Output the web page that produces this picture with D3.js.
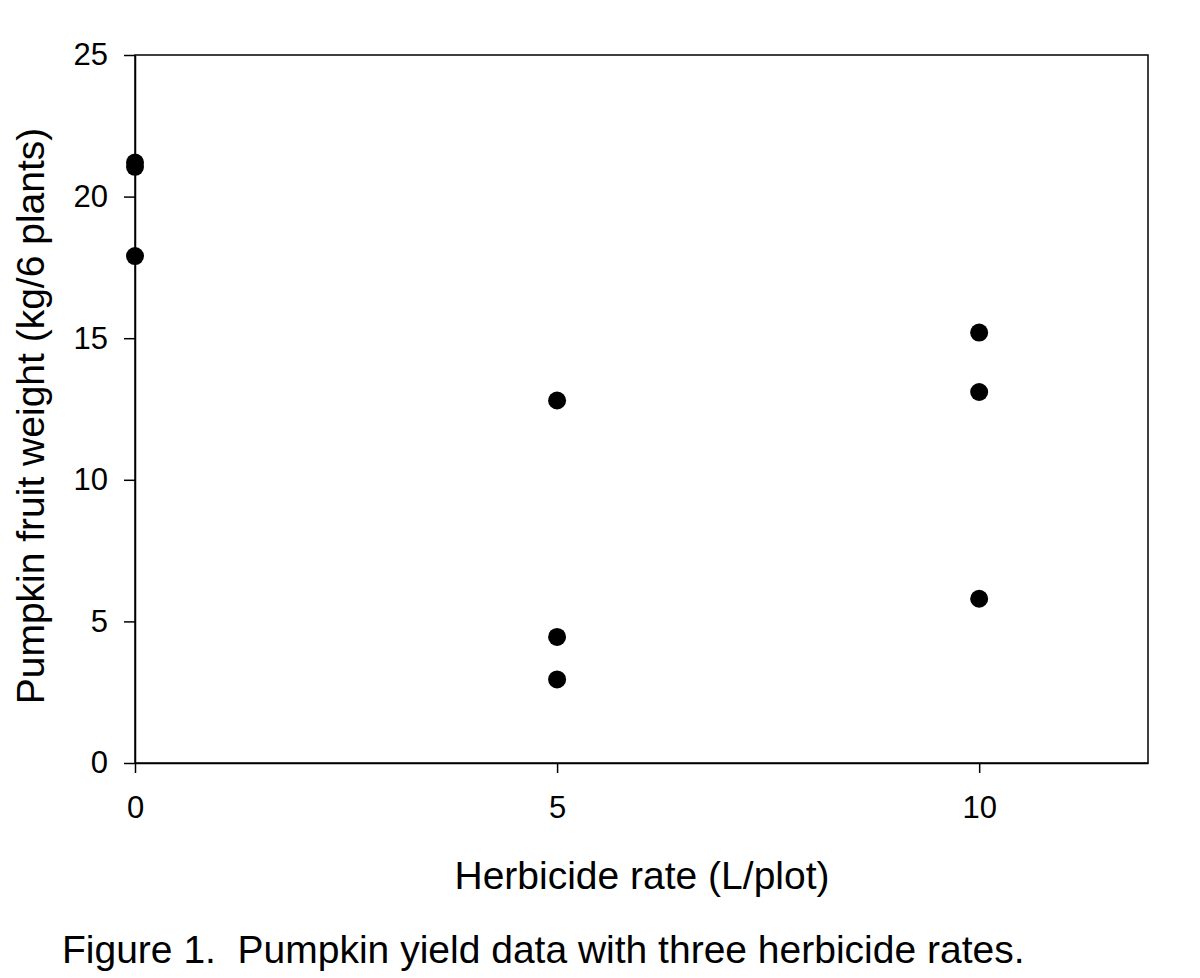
<!DOCTYPE html>
<html><head><meta charset="utf-8">
<script src="https://cdn.jsdelivr.net/npm/d3@7"></script>
<style>body{margin:0;background:#fff;} text{font-family:"Liberation Sans",Arial,sans-serif;fill:#000;white-space:pre;}</style>
</head><body><svg id="c" width="1200" height="978"></svg>
<script>
const herbicideRate = [0, 0, 0, 5, 5, 5, 10, 10, 10];
const fruitWeight   = [21.2, 21.05, 17.9, 12.8, 4.45, 2.95, 15.2, 13.1, 5.8];
const xTicks = [0, 5, 10];
const yTicks = [0, 5, 10, 15, 20, 25];
const xLabel = "Herbicide rate (L/plot)";
const yLabel = "Pumpkin fruit weight (kg/6 plants)";
const caption = "Figure 1.  Pumpkin yield data with three herbicide rates.";

const svg = d3.select("#c");
const L = 135, R = 1148, T = 55, B = 763;
const x = d3.scaleLinear().domain([0, 12]).range([L, R]);
const y = d3.scaleLinear().domain([0, 25]).range([B, T]);

svg.append("rect").attr("x", L).attr("y", T).attr("width", R - L).attr("height", B - T)
  .attr("fill", "none").attr("stroke", "#000").attr("stroke-width", 1.5);

const xa = svg.append("g").attr("transform", `translate(0,${B})`)
  .call(d3.axisBottom(x).tickValues(xTicks).tickSize(10).tickPadding(23).tickSizeOuter(0));
const ya = svg.append("g").attr("transform", `translate(${L},0)`)
  .call(d3.axisLeft(y).tickValues(yTicks).tickSize(11).tickPadding(16).tickSizeOuter(0));
[xa, ya].forEach(g => {
  g.attr("font-size", 31).attr("font-family", "Liberation Sans, Arial, sans-serif");
  g.select(".domain").attr("stroke", "#000").attr("stroke-width", 1.5);
  g.selectAll(".tick line").attr("stroke", "#000").attr("stroke-width", 1.5);
  g.selectAll(".tick text").attr("fill", "#000");
});

svg.append("g").selectAll("circle").data(herbicideRate.map((r, i) => [r, fruitWeight[i]]))
  .join("circle").attr("cx", d => x(d[0])).attr("cy", d => y(d[1])).attr("r", 9).attr("fill", "#000");

svg.append("text").attr("x", 642).attr("y", 889).attr("text-anchor", "middle")
  .attr("font-size", 39).text(xLabel);
svg.append("text").attr("transform", `translate(44,416) rotate(-90)`)
  .attr("text-anchor", "middle").attr("font-size", 39).text(yLabel);
svg.append("text").attr("x", 62).attr("y", 963).attr("font-size", 39).attr("xml:space", "preserve").text(caption);
</script></body></html>
